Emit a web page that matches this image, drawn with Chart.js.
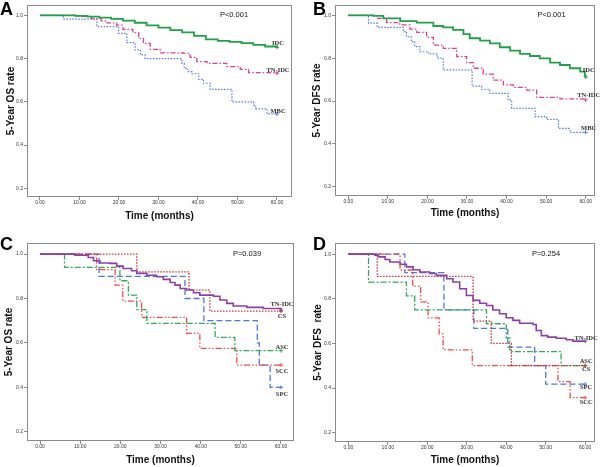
<!DOCTYPE html>
<html>
<head>
<meta charset="utf-8">
<script src="https://cdn.jsdelivr.net/npm/chart.js@4.4.0/dist/chart.umd.min.js"></script>
<style>
body{margin:0;background:#fff;}
#wrap{position:relative;width:600px;height:467px;overflow:hidden;background:#fff;}
canvas{position:absolute;}
</style>
</head>
<body>
<div id="wrap">
<canvas id="cA" width="300" height="230" style="left:0;top:0"></canvas>
<canvas id="cB" width="300" height="230" style="left:300px;top:0"></canvas>
<canvas id="cC" width="300" height="237" style="left:0;top:230px"></canvas>
<canvas id="cD" width="300" height="237" style="left:300px;top:230px"></canvas>
</div>
<script>
// tick labels
var xTicks = [0, 10, 20, 30, 40, 50, 60];
var yTicks = [0.2, 0.4, 0.6, 0.8, 1.0];

// panel A - 5-year OS
var aIdcT = [0, 9, 12, 15, 18, 21, 24, 27, 30, 33, 36, 39, 42, 45, 48, 51, 54, 57, 60];
var aIdcS = [1, 0.998, 0.994, 0.99, 0.984, 0.976, 0.966, 0.954, 0.943, 0.932, 0.921, 0.905, 0.889, 0.882, 0.877, 0.872, 0.864, 0.856, 0.852];
var aTnT = [0, 9, 13, 15.5, 17, 19.4, 21, 23.5, 25, 26.2, 27.9, 30.4, 36.3, 38, 39.7, 42.3, 47.3, 50.7, 52.8, 60];
var aTnS = [1, 0.995, 0.985, 0.975, 0.965, 0.955, 0.935, 0.92, 0.894, 0.87, 0.843, 0.827, 0.824, 0.806, 0.786, 0.778, 0.763, 0.75, 0.735, 0.733];
var aMbcT = [0, 5.9, 14.4, 19.9, 22, 24.1, 25.4, 26.6, 35.9, 36.5, 37.4, 38.5, 40.2, 41.4, 43.1, 48.6, 54.1, 54.6, 57.5, 60];
var aMbcS = [1, 0.983, 0.948, 0.917, 0.874, 0.84, 0.817, 0.8, 0.778, 0.755, 0.74, 0.73, 0.704, 0.686, 0.658, 0.6, 0.585, 0.568, 0.544, 0.544];

// panel B - 5-year DFS
var bIdcT = [0, 6.3, 8.85, 13.1, 17.3, 21.5, 24, 26.5, 29.1, 30.7, 33.3, 35.8, 38.3, 40.9, 43.4, 45.9, 48.4, 51, 53.5, 56, 58.6, 59.8, 60];
var bIdcS = [1, 0.997, 0.986, 0.973, 0.966, 0.95, 0.944, 0.932, 0.912, 0.893, 0.882, 0.869, 0.851, 0.835, 0.82, 0.81, 0.799, 0.779, 0.768, 0.753, 0.737, 0.717, 0.712];
var bTnT = [0, 7.2, 9.7, 13, 15.6, 17.3, 19.8, 21.5, 24, 27.4, 29.9, 31.6, 34.1, 36.6, 39.2, 41.7, 45.1, 47.6, 53.5, 60];
var bTnS = [1, 0.986, 0.966, 0.955, 0.935, 0.92, 0.897, 0.861, 0.846, 0.807, 0.779, 0.753, 0.726, 0.698, 0.675, 0.664, 0.651, 0.617, 0.61, 0.605];
var bMbcT = [0, 5.1, 7.3, 13.9, 14.7, 15.9, 16.8, 18.1, 20.2, 22.5, 24, 31.3, 33.7, 35.8, 40.4, 41.3, 47.2, 50.1, 53.1, 56, 60];
var bMbcS = [1, 0.963, 0.944, 0.924, 0.9, 0.877, 0.854, 0.83, 0.82, 0.8, 0.745, 0.67, 0.655, 0.636, 0.605, 0.566, 0.527, 0.514, 0.472, 0.454, 0.454];

// panel C - 5-year OS by subtype
var cTnT = [0, 8.7, 12, 13.3, 14.9, 17.4, 19.1, 20.7, 22.8, 24.1, 26.6, 29, 30.7, 32.4, 33.6, 34.9, 36.5, 38.2, 39.8, 43.2, 44.8, 46.5, 48.1, 51.5, 55.6, 60];
var cTnS = [1, 0.995, 0.985, 0.97, 0.96, 0.958, 0.946, 0.935, 0.925, 0.913, 0.905, 0.898, 0.886, 0.872, 0.86, 0.845, 0.838, 0.826, 0.815, 0.81, 0.793, 0.778, 0.766, 0.76, 0.755, 0.748];
var cCsT = [0, 24.1, 37.1, 42.3, 60];
var cCsS = [1, 0.92, 0.838, 0.743, 0.743];
var cAscT = [0, 6.1, 19.9, 22, 24.1, 26.6, 43.6, 48.5, 60];
var cAscS = [1, 0.94, 0.88, 0.815, 0.75, 0.688, 0.625, 0.565, 0.565];
var cSccT = [0, 14.1, 18.7, 20.6, 25.3, 36.5, 39.8, 49, 60];
var cSccS = [1, 0.93, 0.86, 0.788, 0.715, 0.643, 0.575, 0.5, 0.5];
var cSpcT = [0, 14.7, 36.1, 40.8, 54.1, 54.6, 57.3, 60];
var cSpcS = [1, 0.9, 0.8, 0.7, 0.6, 0.5, 0.4, 0.4];

// panel D - 5-year DFS by subtype
var dTnT = [0, 6.7, 7.6, 9.3, 10.5, 13.1, 14.7, 16.4, 18.1, 20.6, 22.3, 24.9, 26.5, 28.2, 29.9, 31.6, 33.3, 35, 36.6, 38.3, 40, 41.7, 43.4, 46.8, 47.6, 48.9, 50.5, 52.7, 55.2, 56.9, 60];
var dTnS = [1, 0.995, 0.988, 0.976, 0.965, 0.955, 0.943, 0.93, 0.92, 0.913, 0.905, 0.89, 0.875, 0.845, 0.815, 0.793, 0.78, 0.77, 0.75, 0.733, 0.715, 0.703, 0.69, 0.685, 0.658, 0.635, 0.628, 0.623, 0.616, 0.61, 0.61];
var dCsT = [0, 7.3, 31.6, 36.2, 41.3, 60];
var dCsS = [1, 0.9, 0.7, 0.6, 0.5, 0.5];
var dAscT = [0, 5.1, 14.7, 16.8, 35, 40, 40.9, 53.9, 60];
var dAscS = [1, 0.875, 0.813, 0.75, 0.688, 0.625, 0.563, 0.5, 0.5];
var dSccT = [0, 13.1, 16.3, 18.3, 20.2, 23, 24, 31.4, 53.1, 56.2, 60];
var dSccS = [1, 0.929, 0.857, 0.786, 0.714, 0.643, 0.571, 0.5, 0.429, 0.357, 0.357];
var dSpcT = [0, 14.3, 24.2, 31.8, 40.4, 47.2, 50, 60];
var dSpcS = [1, 0.917, 0.75, 0.667, 0.583, 0.5, 0.417, 0.417];

var SANS = "'Liberation Sans', Arial, sans-serif";
var SERIF = "'Liberation Serif', 'Times New Roman', serif";

var GREEN = '#23a049', PINK = '#d9418e', BLUE = '#5a78e0';
var PURPLE = '#8e3fa6', DRED = '#c8323c', GREEN2 = '#35a85c', RED = '#f04b4b', BLUE2 = '#4f76d8';

function series(name, t, s, color, dash, width, dy) {
  return {name: name, t: t, s: s, color: color, dash: dash, width: width, dy: dy};
}

// draws frame, panel letter, P value and curve names
var decor = {
  id: 'decor',
  afterDatasetsDraw: function (chart) {
    var c = chart.ctx, a = chart.chartArea, p = chart.options.plugins.decor;
    var xs = chart.scales.x, ys = chart.scales.y;
    c.save();
    c.strokeStyle = '#8a8a8a';
    c.lineWidth = 1;
    c.strokeRect(Math.round(a.left) + 0.5, Math.round(a.top) + 0.5,
      Math.round(a.right - a.left) - 1, Math.round(a.bottom - a.top) - 1);

    c.fillStyle = '#000';
    c.font = 'bold 18px ' + SANS;
    c.textAlign = 'left';
    c.textBaseline = 'alphabetic';
    c.fillText(p.letter, p.letterX, p.letterY);

    c.font = '7.5px ' + SANS;
    c.textAlign = 'center';
    c.textBaseline = 'middle';
    c.fillStyle = '#111';
    c.fillText(p.pText, p.pX, p.pY);

    c.font = 'bold 6.5px ' + SERIF;
    c.fillStyle = '#333';
    p.series.forEach(function (sr) {
      var last = sr.s[sr.s.length - 1];
      c.fillText(sr.name, xs.getPixelForValue(60) + (p.labelDx || 1), ys.getPixelForValue(last) + sr.dy);
    });
    c.restore();
  }
};

function makePanel(id, p) {
  var cv = document.getElementById(id);
  var W = cv.width, H = cv.height;
  var datasets = p.series.map(function (sr) {
    var n = sr.t.length;
    return {
      label: sr.name,
      data: sr.t.map(function (x, i) { return {x: x, y: sr.s[i]}; }),
      stepped: true,
      borderColor: sr.color,
      backgroundColor: sr.color,
      borderDash: sr.dash,
      borderWidth: sr.width,
      fill: false,
      pointStyle: 'cross',
      pointBorderWidth: 1,
      pointRadius: function (ctx) { return ctx.dataIndex === n - 1 ? 2 : 0; }
    };
  });
  var tickFont = {size: 5, family: SANS};
  new Chart(cv, {
    type: 'line',
    data: {datasets: datasets},
    options: {
      responsive: false,
      animation: false,
      devicePixelRatio: 1,
      layout: {padding: {left: 0, top: p.area.t, right: W - p.area.r, bottom: 0}},
      plugins: {
        legend: {display: false},
        tooltip: {enabled: false},
        decor: p
      },
      scales: {
        x: {
          type: 'linear',
          min: p.xMin, max: p.xMax,
          afterBuildTicks: function (s) { s.ticks = xTicks.map(function (v) { return {value: v}; }); },
          afterFit: function (s) { s.height = H - p.area.b; },
          grid: {drawOnChartArea: false, tickLength: 3, color: '#8a8a8a'},
          border: {display: false},
          ticks: {font: tickFont, color: '#333', padding: 0, maxRotation: 0, autoSkip: false,
            callback: function (v) { return Number(v).toFixed(2); }},
          title: {display: true, text: 'Time (months)', color: '#111',
            font: {size: 10, weight: 'bold', family: SANS}, padding: {top: 0, bottom: p.xTitlePad}}
        },
        y: {
          type: 'linear',
          min: p.yMin, max: p.yMax,
          afterBuildTicks: function (s) { s.ticks = yTicks.map(function (v) { return {value: v}; }); },
          afterFit: function (s) { s.width = p.area.l; },
          grid: {drawOnChartArea: false, tickLength: 3, color: '#8a8a8a'},
          border: {display: false},
          ticks: {font: tickFont, color: '#333', padding: 1, autoSkip: false,
            callback: function (v) { return Number(v).toFixed(1); }},
          title: {display: true, text: p.yTitle, color: '#111',
            font: {size: 10, weight: 'bold', family: SANS}, padding: {top: p.yTitlePad, bottom: 0}}
        }
      }
    },
    plugins: [decor]
  });
}

makePanel('cA', {
  letter: 'A', letterX: 0, letterY: 15,
  pText: 'P<0.001', pX: 234, pY: 15,
  yTitle: '5-Year OS rate', yTitlePad: 5.5, xTitlePad: 8,
  area: {l: 27, t: 5, r: 292, b: 197},
  xMin: -3.29, xMax: 63.8, yMin: 0.16, yMax: 1.048,
  series: [
    series('IDC', aIdcT, aIdcS, GREEN, [], 1.8, -4),
    series('TN-IDC', aTnT, aTnS, PINK, [5, 2, 1.5, 2], 1.3, -3),
    series('MBC', aMbcT, aMbcS, BLUE, [1.5, 1.5], 1.2, -3)
  ]
});

makePanel('cB', {
  letter: 'B', letterX: 13, letterY: 15,
  pText: 'P<0.001', pX: 251.5, pY: 15,
  yTitle: '5-Year DFS rate', yTitlePad: 11, xTitlePad: 11, labelDx: 3,
  area: {l: 35, t: 5, r: 295, b: 196},
  xMin: -3.36, xMax: 62.35, yMin: 0.157, yMax: 1.048,
  series: [
    series('IDC', bIdcT, bIdcS, GREEN, [], 1.8, -7),
    series('TN-IDC', bTnT, bTnS, PINK, [5, 2, 1.5, 2], 1.3, -5),
    series('MBC', bMbcT, bMbcS, BLUE, [1.5, 1.5], 1.2, -4)
  ]
});

makePanel('cC', {
  letter: 'C', letterX: 0, letterY: 20,
  pText: 'P=0.039', pX: 247, pY: 24,
  yTitle: '5-Year OS rate', yTitlePad: 3, xTitlePad: 1,
  area: {l: 27, t: 13, r: 294, b: 211},
  xMin: -3.24, xMax: 63.24, yMin: 0.158, yMax: 1.05,
  series: [
    series('TN-IDC', cTnT, cTnS, PURPLE, [], 1.6, -6),
    series('CS', cCsT, cCsS, DRED, [1.5, 1.5], 1.3, 5),
    series('ASC', cAscT, cAscS, GREEN2, [6, 2, 2, 2], 1.3, -3),
    series('SCC', cSccT, cSccS, RED, [6, 2, 1.5, 2, 1.5, 2], 1.3, 6),
    series('SPC', cSpcT, cSpcS, BLUE2, [6, 3], 1.3, 7)
  ]
});

makePanel('cD', {
  letter: 'D', letterX: 13, letterY: 20,
  pText: 'P=0.254', pX: 246, pY: 24,
  yTitle: '5-Year DFS  rate', yTitlePad: 12, xTitlePad: 1,
  area: {l: 35, t: 13, r: 296, b: 212},
  xMin: -3.4, xMax: 62.5, yMin: 0.158, yMax: 1.05,
  series: [
    series('TN-IDC', dTnT, dTnS, PURPLE, [], 1.6, -3),
    series('CS', dCsT, dCsS, DRED, [1.5, 1.5], 1.3, 4),
    series('ASC', dAscT, dAscS, GREEN2, [6, 2, 2, 2], 1.3, -4),
    series('SCC', dSccT, dSccS, RED, [6, 2, 1.5, 2, 1.5, 2], 1.3, 5),
    series('SPC', dSpcT, dSpcS, BLUE2, [6, 3], 1.3, 3)
  ]
});
</script>
</body>
</html>
